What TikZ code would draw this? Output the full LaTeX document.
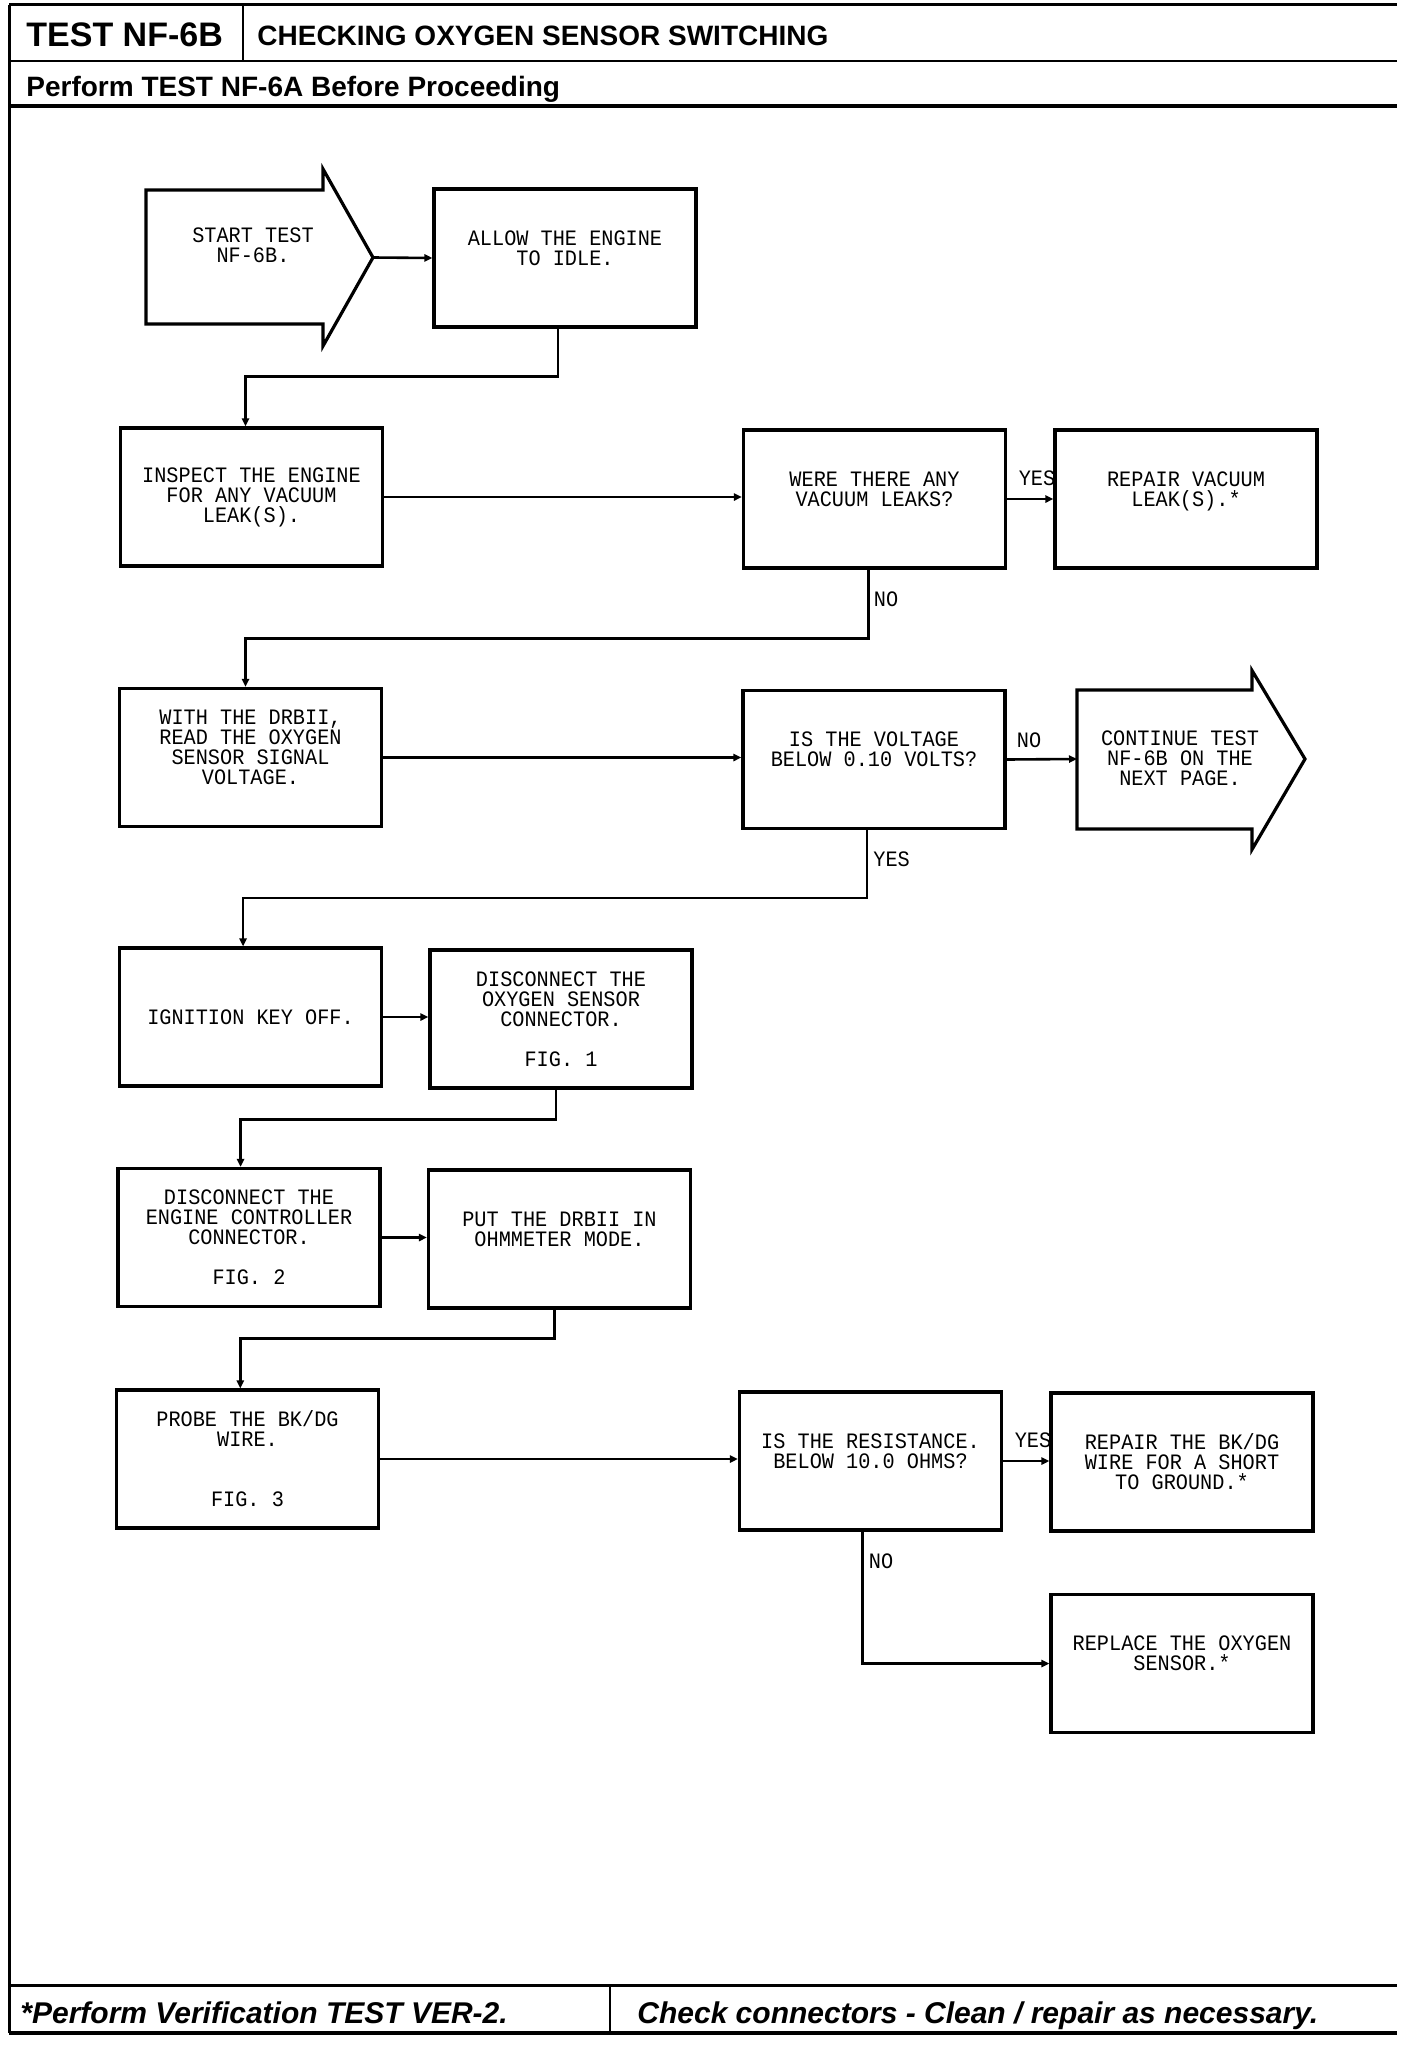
\documentclass[tikz,border=0pt]{standalone}
\usepackage{fontspec}
\setmainfont{Liberation Sans}
\newfontfamily\plotfont[FakeStretch=0.92]{Liberation Mono}
\usetikzlibrary{arrows.meta}
\tikzset{
  stepbox/.style={draw, line width=1.6pt, minimum width=131pt, minimum height=69pt,
    inner sep=0pt, align=center, font=\plotfont\fontsize{11pt}{10pt}\selectfont},
  ptext/.style={inner sep=0pt, align=center, font=\plotfont\fontsize{11pt}{10pt}\selectfont},
  conn/.style={line width=1.3pt, -{Triangle[length=4pt,width=3.6pt]}},
  lbl/.style={inner sep=0pt, font=\plotfont\fontsize{11pt}{10pt}\selectfont},
  bigarrow/.style={draw, line width=1.6pt, line join=miter},
  hdr/.style={anchor=base west, inner sep=0pt, font=\bfseries\fontsize{14pt}{14pt}\selectfont},
  ftr/.style={anchor=base west, inner sep=0pt, font=\bfseries\itshape\fontsize{15pt}{15pt}\selectfont},
}
\begin{document}
\begin{tikzpicture}[x=0.5pt,y=-0.5pt]
\fill[white] (0,0) rectangle (1408,2050);
\useasboundingbox (0,0) rectangle (1408,2050);

% frame
\draw[line width=1.5pt] (9,5) -- (1397,5);
\draw[line width=1.5pt] (9,5) -- (9,2033);
\draw[line width=1.3pt] (243,5) -- (243,61);
\draw[line width=1.3pt] (9,61) -- (1397,61);
\draw[line width=2pt] (9,106) -- (1397,106);
\draw[line width=1.5pt] (9,1985) -- (1397,1985);
\draw[line width=1.3pt] (610,1985) -- (610,2033);
\draw[line width=2pt] (9,2033) -- (1397,2033);

\node[hdr, font=\bfseries\fontsize{17pt}{17pt}\selectfont] (testid) at (26,47) {TEST NF-6B};
\node[hdr] (title) at (257,46) {CHECKING OXYGEN SENSOR SWITCHING};
\node[hdr] (pre) at (26,97) {Perform TEST NF-6A Before Proceeding};
\node[ftr] (foot1) at (20,2023) {*Perform Verification TEST VER-2.};
\node[ftr] (foot2) at (637,2023) {Check connectors - Clean / repair as necessary.};

% row 1
\draw[bigarrow] (146,190) -- (323,190) -- (323,169) -- (373,257.5) -- (323,346) -- (323,324) -- (146,324) -- cycle;
\node[ptext] (start) at (253,255) {START TEST\\NF-6B.\\\mbox{}};
\coordinate (starttip) at (373,257.5);
\node[stepbox] (allow) at (565,258) {ALLOW THE ENGINE\\TO IDLE.\\\mbox{}};
\draw[conn] (starttip) -- (allow.west);

% row 2
\node[stepbox] (inspect) at (251.5,497) {INSPECT THE ENGINE\\FOR ANY VACUUM\\LEAK(S).};
\node[stepbox] (were) at (874.5,499) {WERE THERE ANY\\VACUUM LEAKS?\\\mbox{}};
\node[stepbox] (repvac) at (1186,499) {REPAIR VACUUM\\LEAK(S).*\\\mbox{}};
\draw[conn] ([xshift=-3.5pt]allow.south) -- ++(0,48) -| ([xshift=-3pt]inspect.north);
\draw[conn] (inspect.east) -- (inspect.east -| were.west);
\draw[conn] (were.east) -- (repvac.west);
\node[lbl] (yes1) at (1037,478) {YES};

% row 3
\node[stepbox] (with) at (250.5,757.5) {WITH THE DRBII,\\READ THE OXYGEN\\SENSOR SIGNAL\\VOLTAGE.\\\mbox{}};
\node[stepbox] (isvolt) at (874,759.5) {IS THE VOLTAGE\\BELOW 0.10 VOLTS?\\\mbox{}};
\draw[bigarrow] (1077,690) -- (1252,690) -- (1252,670.5) -- (1305,759) -- (1252,849.5) -- (1252,829) -- (1077,829) -- cycle;
\node[ptext] (cont) at (1180,758) {CONTINUE TEST\\NF-6B ON THE\\NEXT PAGE.};
\coordinate (contL) at (1077,759);
\draw[conn] ([xshift=-3pt]were.south) -- ++(0,69) -| ([xshift=-2.5pt]with.north);
\node[lbl] (no1) at (886,599) {NO};
\draw[conn] (with.east) -- (with.east -| isvolt.west);
\draw[conn] (isvolt.east) -- (contL);
\node[lbl] (no2) at (1029,740) {NO};

% row 4
\node[stepbox] (ign) at (250.5,1017) {IGNITION KEY OFF.};
\node[stepbox] (disco2) at (561,1019) {DISCONNECT THE\\OXYGEN SENSOR\\CONNECTOR.\\\mbox{}\\FIG. 1};
\draw[conn] ([xshift=-3.5pt]isvolt.south) -- ++(0,68) -| ([xshift=-3.7pt]ign.north);
\node[lbl] (yes2) at (891.6,859) {YES};
\draw[conn] (ign.east) -- (ign.east -| disco2.west);

% row 5
\node[stepbox] (disceng) at (249,1237.5) {DISCONNECT THE\\ENGINE CONTROLLER\\CONNECTOR.\\\mbox{}\\FIG. 2};
\node[stepbox] (put) at (559.5,1239) {PUT THE DRBII IN\\OHMMETER MODE.\\\mbox{}};
\draw[conn] ([xshift=-2.6pt]disco2.south) -- ++(0,30) -| ([xshift=-4.2pt]disceng.north);
\draw[conn] (disceng.east) -- (disceng.east -| put.west);

% row 6
\node[stepbox] (probe) at (247.5,1459) {PROBE THE BK/DG\\WIRE.\\\mbox{}\\\mbox{}\\FIG. 3};
\node[stepbox] (isres) at (870.5,1461) {IS THE RESISTANCE.\\BELOW 10.0 OHMS?\\\mbox{}};
\node[stepbox] (repbk) at (1182,1462) {REPAIR THE BK/DG\\WIRE FOR A SHORT\\TO GROUND.*};
\node[stepbox] (replace) at (1182,1663.5) {REPLACE THE OXYGEN\\SENSOR.*\\\mbox{}};
\draw[conn] ([xshift=-2.6pt]put.south) -- ++(0,29) -| ([xshift=-3.6pt]probe.north);
\draw[conn] (probe.east) -- (probe.east -| isres.west);
\draw[conn] (isres.east) -- (isres.east -| repbk.west);
\node[lbl] (yes3) at (1033,1440.5) {YES};
\draw[conn] ([xshift=-4pt]isres.south) |- (replace.west);
\node[lbl] (no3) at (881,1561) {NO};
\end{tikzpicture}
\end{document}
